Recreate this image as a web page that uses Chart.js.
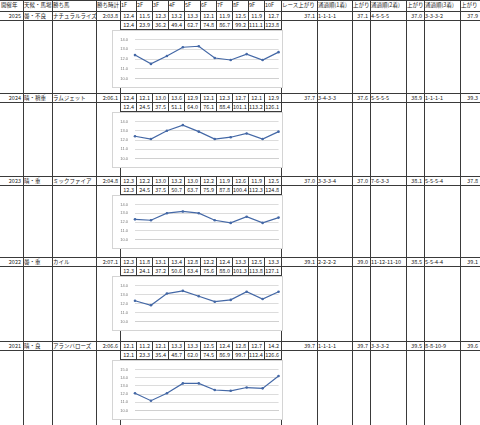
<!DOCTYPE html>
<html>
<head>
<meta charset="utf-8">
<script src="https://cdn.jsdelivr.net/npm/chart.js@4"></script>
<style>
  body { margin: 0; background: #fff; }
  #sheet { position: relative; width: 480px; height: 425px; overflow: hidden; background: #fff;
           font-family: "Noto Sans CJK JP", "Noto Sans", sans-serif; font-size: 5.5px; color: #222; }
  .ln { position: absolute; background: #3a3a3a; }
  .tx { position: absolute; white-space: nowrap; line-height: 9px; height: 9px; }
  .box { position: absolute; background: #fff; border: 1px solid #d4d4d4; box-sizing: border-box; }
  canvas { position: absolute; }
</style>
</head>
<body>
<div id="sheet"></div>
<script>
// table data
const years = ['2025', '2024', '2023', '2022', '2021'];
const conditions = ['曇・不良', '晴・稍重', '晴・重', '曇・重', '晴・良'];
const winners = ['ナチュラルライズ', 'ラムジェット', 'ミックファイア', 'カイル', 'アランバローズ'];
const winTimes = ['2:03.8', '2:06.1', '2:04.8', '2:07.1', '2:06.6'];
const furlongs = ['1F', '2F', '3F', '4F', '5F', '6F', '7F', '8F', '9F', '10F'];

const laps2025 = [12.4, 11.5, 12.3, 13.2, 13.3, 12.1, 11.9, 12.5, 11.9, 12.7];
const laps2024 = [12.4, 12.1, 13.0, 13.6, 12.9, 12.1, 12.3, 12.7, 12.1, 12.9];
const laps2023 = [12.3, 12.2, 13.0, 13.2, 13.0, 12.2, 11.9, 12.6, 11.9, 12.5];
const laps2022 = [12.3, 11.8, 13.1, 13.4, 12.8, 12.2, 12.4, 13.3, 12.5, 13.3];
const laps2021 = [12.1, 11.2, 12.1, 13.3, 13.3, 12.5, 12.4, 12.8, 12.7, 14.2];

const cum2025 = [12.4, 23.9, 36.2, 49.4, 62.7, 74.8, 86.7, 99.2, 111.1, 123.8];
const cum2024 = [12.4, 24.5, 37.5, 51.1, 64.0, 76.1, 88.4, 101.1, 113.2, 126.1];
const cum2023 = [12.3, 24.5, 37.5, 50.7, 63.7, 75.9, 87.8, 100.4, 112.3, 124.8];
const cum2022 = [12.3, 24.1, 37.2, 50.6, 63.4, 75.6, 88.0, 101.3, 113.8, 127.1];
const cum2021 = [12.1, 23.3, 35.4, 48.7, 62.0, 74.5, 86.9, 99.7, 112.4, 126.6];

const raceAgari = [37.1, 37.7, 37.0, 39.1, 39.7];
const pass1 = ['1-1-1-1', '3-4-3-3', '3-3-3-4', '2-2-2-2', '1-1-1-1'];
const agari1 = [37.1, 37.6, 37.0, 39.0, 39.7];
const pass2 = ['4-5-5-5', '5-5-5-5', '7-6-3-3', '11-12-11-10', '3-3-3-2'];
const agari2 = [37.0, 38.9, 38.1, 38.5, 39.5];
const pass3 = ['3-3-3-2', '1-1-1-1', '5-5-5-4', '5-5-4-4', '8-8-10-9'];
const agari3 = [37.9, 39.3, 37.8, 39.1, 39.6];

const yTicks = ['10.0', '11.0', '12.0', '13.0', '14.0', '15.0'];

const laps = [laps2025, laps2024, laps2023, laps2022, laps2021];
const cums = [cum2025, cum2024, cum2023, cum2022, cum2021];

// layout
const blockTop = [11, 93, 176, 257, 341];
const chartTop = [30, 112, 195, 276, 360];
const chartH = [58, 56, 54, 55, 60];
const chartMax = [14, 14, 14, 14, 15];

const sheet = document.getElementById('sheet');

function line(x, y, w, h) {
  const d = document.createElement('div');
  d.className = 'ln';
  d.style.cssText = `left:${x}px;top:${y}px;width:${w}px;height:${h}px`;
  sheet.appendChild(d);
}
function text(s, x, y, w, align) {
  const d = document.createElement('div');
  d.className = 'tx';
  d.textContent = s;
  d.style.cssText = `left:${x + 1}px;top:${y}px;width:${w - 3}px;text-align:${align || 'left'}`;
  sheet.appendChild(d);
}

const fCol = i => 120 + 16 * i;
const fW = i => (i === 9 ? 17 : 16);

// header row
const head = [
  ['開催年', 0, 23], ['天候・馬場', 23, 29], ['勝ち馬', 52, 44], ['勝ち時計', 96, 24],
  ['レース上がり', 281, 36], ['通過順(1着)', 317, 35], ['上がり', 352, 18],
  ['通過順(2着)', 370, 36], ['上がり', 406, 18], ['通過順(3着)', 424, 36], ['上がり', 460, 20]
];
head.forEach(h => text(h[0], h[1], 1, h[2]));
furlongs.forEach((f, i) => text(f, fCol(i), 1, fW(i)));

// grid lines
line(0, 0, 480, 1);
line(0, 11, 480, 1);
[23, 52, 96, 120, 281, 317, 352, 370, 406, 424, 460].forEach(x => line(x, 0, 1, 425));
for (let i = 1; i < 10; i++) line(fCol(i), 0, 1, 11);

years.forEach((yr, b) => {
  const T = blockTop[b];
  line(0, T, 480, 1);
  line(0, T + 9, 480, 1);
  line(120, T + 18, 161, 1);
  for (let i = 1; i < 10; i++) line(fCol(i), T, 1, 18);

  text(yr, 0, T + 0.5, 23, 'right');
  text(conditions[b], 23, T + 0.5, 29);
  text(winners[b], 52, T + 0.5, 44);
  text(winTimes[b], 96, T + 0.5, 24, 'right');
  laps[b].forEach((v, i) => text(v.toFixed(1), fCol(i), T + 0.5, fW(i), 'right'));
  cums[b].forEach((v, i) => text(v.toFixed(1), fCol(i), T + 9.5, fW(i), 'right'));
  text(raceAgari[b].toFixed(1), 281, T + 0.5, 36, 'right');
  text(pass1[b], 317, T + 0.5, 35);
  text(agari1[b].toFixed(1), 352, T + 0.5, 18, 'right');
  text(pass2[b], 370, T + 0.5, 36);
  text(agari2[b].toFixed(1), 406, T + 0.5, 18, 'right');
  text(pass3[b], 424, T + 0.5, 36);
  text(agari3[b].toFixed(1), 460, T + 0.5, 20, 'right');

  // embedded chart
  const box = document.createElement('div');
  box.className = 'box';
  box.style.cssText = `left:112px;top:${chartTop[b]}px;width:171px;height:${chartH[b]}px`;
  sheet.appendChild(box);

  const cv = document.createElement('canvas');
  cv.width = 171;
  cv.height = chartH[b];
  cv.style.left = '112px';
  cv.style.top = chartTop[b] + 'px';
  sheet.appendChild(cv);

  new Chart(cv.getContext('2d'), {
    type: 'line',
    data: {
      labels: furlongs,
      datasets: [{
        data: laps[b],
        borderColor: '#4468a6',
        backgroundColor: '#4468a6',
        borderWidth: 1.2,
        pointRadius: 1.3,
        pointBorderWidth: 0,
        tension: 0
      }]
    },
    options: {
      responsive: false,
      animation: false,
      devicePixelRatio: 1,
      layout: { padding: { top: 5, right: 3, bottom: 1, left: 0 } },
      plugins: { legend: { display: false }, tooltip: { enabled: false } },
      scales: {
        x: {
          afterFit: s => { s.height = 8; },
          grid: { display: false },
          border: { color: '#d0d0d0' },
          ticks: { color: '#777', font: { size: 4 }, padding: 1, maxRotation: 0, autoSkip: false }
        },
        y: {
          min: 10, max: chartMax[b],
          afterFit: s => { s.width = 23; },
          border: { display: false },
          grid: { color: '#dcdcdc', drawTicks: false },
          ticks: {
            stepSize: 1, color: '#777', font: { size: 4 }, padding: 7,
            callback: v => yTicks[v - 10]
          }
        }
      }
    }
  });
});
</script>
</body>
</html>
